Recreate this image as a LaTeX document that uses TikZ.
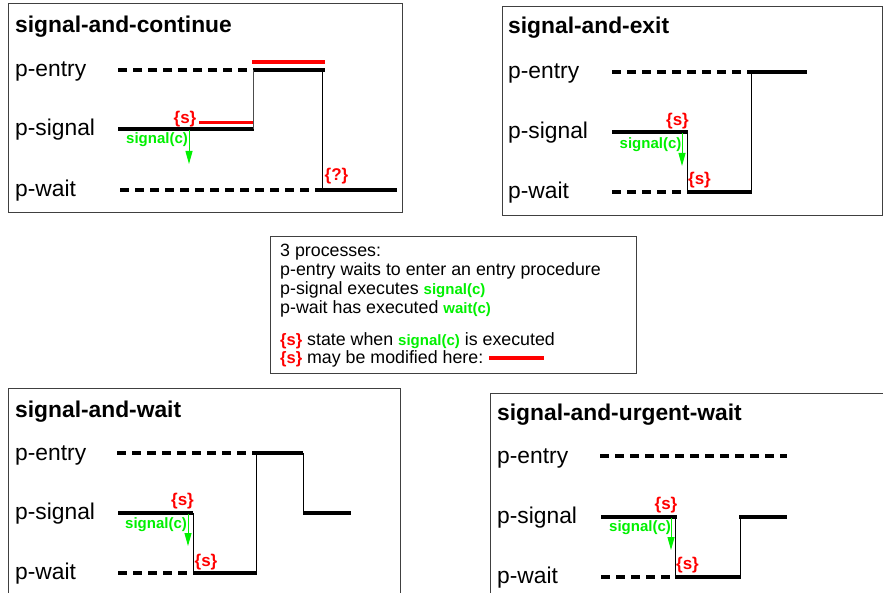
\documentclass[tikz,border=0pt]{standalone}
\usepackage{fontspec}
\setmainfont{Liberation Sans}
\usetikzlibrary{arrows.meta}
\definecolor{sigred}{RGB}{255,0,0}
\definecolor{siggreen}{RGB}{0,240,0}
\newcommand\gtext[1]{{\color{siggreen}\fontsize{15}{19}\selectfont\bfseries #1}}
\newcommand\rtext[1]{{\color{sigred}\fontsize{16.5}{19}\selectfont\bfseries #1}}

\begin{document}
\begin{tikzpicture}[x=1pt,y=-1pt,every node/.style={inner sep=0pt},
  frame/.style={draw=black!75,line width=1pt},
  title/.style={anchor=base west,font=\fontsize{22.8}{26}\selectfont\bfseries},
  lbl/.style={anchor=base west,font=\fontsize{22.8}{26}\selectfont},
  txt/.style={anchor=base west,font=\fontsize{17.8}{19}\selectfont},
  st/.style={text=sigred,font=\fontsize{17}{18}\selectfont\bfseries},
  sg/.style={text=siggreen,font=\fontsize{15}{17}\selectfont\bfseries},
  busy/.style={line width=3.6pt},
  idle/.style={line width=3.6pt,dash pattern=on 8.5pt off 6.5pt},
  mod/.style={sigred,line width=3.6pt},
  jump/.style={line width=1pt},
  sigarrow/.style={siggreen,line width=1pt,-{Triangle[length=13pt,width=7pt]}}]
\useasboundingbox (0,0) rectangle (883,593);
\clip (0,0) rectangle (883,593);

% signal-and-continue
\draw[frame] (8,4) rectangle (402,213);
\node[title] (t1) at (15,33) {signal-and-continue};
\node[lbl] (e1) at (15,77) {p-entry};
\node[lbl] (s1) at (15,135.5) {p-signal};
\node[lbl] (w1) at (15,196.5) {p-wait};
\draw[idle] (118,70) -- (253,70);
\draw[busy] (253,70) -- (325,70);
\draw[mod] (252,62) -- (325,62);
\draw[busy] (118,129) -- (254,129);
\draw[mod] (199,122.5) -- (254,122.5);
\draw[jump,black!70] (253.5,70) -- (253.5,129);
\draw[jump] (322,70) -- (322,190);
\draw[idle] (120,190) -- (322,190);
\draw[busy] (322,190) -- (397,190);
\node[st] (ss1) at (185,119) {\{s\}};
\node[st] (sq1) at (336.5,176) {\{?\}};
\node[sg] (sc1) at (157,140) {signal(c)};
\draw[sigarrow] (189,130) -- (189,164);

% signal-and-exit
\draw[frame] (502,7) rectangle (882,216);
\node[title] (t2) at (508,34) {signal-and-exit};
\node[lbl] (e2) at (508,79) {p-entry};
\node[lbl] (s2) at (508,138.5) {p-signal};
\node[lbl] (w2) at (508,198.5) {p-wait};
\draw[idle] (612,72) -- (750,72);
\draw[busy] (750,72) -- (807,72);
\draw[busy] (612,132) -- (688,132);
\draw[jump] (687,132) -- (687,192);
\draw[idle] (612,192) -- (687,192);
\draw[busy] (687,192) -- (752,192);
\draw[jump] (751,72) -- (751,192);
\node[st] (ss2) at (677.5,121.5) {\{s\}};
\node[st] (sw2) at (699.5,180) {\{s\}};
\node[sg] (sc2) at (650.5,145) {signal(c)};
\draw[sigarrow] (682,133) -- (682,166);

% legend
\draw[frame] (270,237) rectangle (636,373);
\node[txt] (l1) at (280,257) {3 processes:};
\node[txt] (l2) at (280,275.5) {p-entry waits to enter an entry procedure};
\node[txt] (l3) at (280,294.5) {p-signal executes \gtext{signal(c)}};
\node[txt] (l4) at (280,313.5) {p-wait has executed \gtext{wait(c)}};
\node[txt] (l5) at (280,345) {\rtext{\{s\}} state when \gtext{signal(c)} is executed};
\node[txt] (l6) at (280,363.5) {\rtext{\{s\}} may be modified here:};
\draw[mod] (489,358) -- (544,358);

% signal-and-wait
\draw[frame] (8,388) rectangle (400,600);
\node[title] (t3) at (15,417) {signal-and-wait};
\node[lbl] (e3) at (15,460) {p-entry};
\node[lbl] (s3) at (15,519.5) {p-signal};
\node[lbl] (w3) at (15,579.5) {p-wait};
\draw[idle] (117,453) -- (255,453);
\draw[busy] (255,453) -- (303,453);
\draw[jump] (303,453) -- (303,513);
\draw[busy] (303,513) -- (351,513);
\draw[busy] (118,513) -- (193,513);
\draw[jump] (193,513) -- (193,573);
\draw[idle] (118,573) -- (193,573);
\draw[busy] (193,573) -- (257,573);
\draw[jump] (256,453) -- (256,573);
\node[st] (ss3) at (182.5,501.5) {\{s\}};
\node[st] (sw3) at (206,562) {\{s\}};
\node[sg] (sc3) at (156,525) {signal(c)};
\draw[sigarrow] (188,514) -- (188,546);

% signal-and-urgent-wait
\draw[frame] (490,393) rectangle (890,600);
\node[title] (t4) at (497,420) {signal-and-urgent-wait};
\node[lbl] (e4) at (497,463) {p-entry};
\node[lbl] (s4) at (497,523.5) {p-signal};
\node[lbl] (w4) at (497,583) {p-wait};
\draw[idle] (600,456) -- (787,456);
\draw[busy] (601,517) -- (677,517);
\draw[busy] (739,517) -- (787,517);
\draw[jump] (675,517) -- (675,577);
\draw[idle] (601,577) -- (675,577);
\draw[busy] (675,577) -- (741,577);
\draw[jump] (740,517) -- (740,577);
\node[st] (ss4) at (666,505) {\{s\}};
\node[st] (sw4) at (687.5,565) {\{s\}};
\node[sg] (sc4) at (640,528) {signal(c)};
\draw[sigarrow] (671,518) -- (671,550);
\end{tikzpicture}
\end{document}
